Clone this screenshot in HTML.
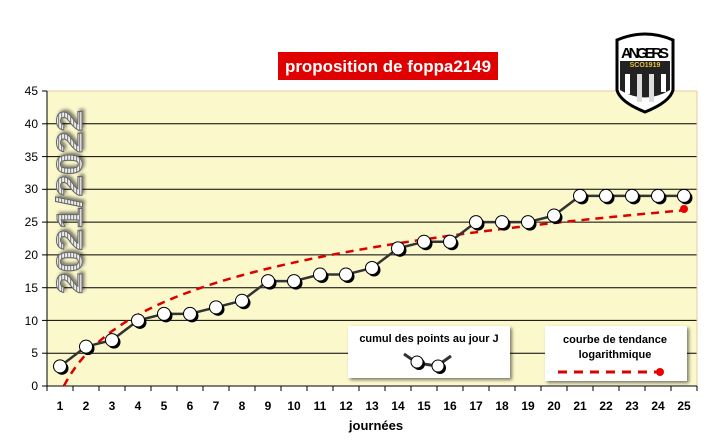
<!DOCTYPE html>
<html><head><meta charset="utf-8"><style>
body{margin:0;background:#fff}
svg{display:block;font-family:"Liberation Sans",sans-serif}
</style></head><body>
<svg width="708" height="448" viewBox="0 0 708 448" xmlns="http://www.w3.org/2000/svg">
<defs>
<pattern id="st" width="4" height="3" patternUnits="userSpaceOnUse"><rect width="4" height="3" fill="#eee"/><rect width="4" height="1.2" fill="#888"/></pattern>
<filter id="sh"><feDropShadow dx="2" dy="2" stdDeviation="1.5" flood-opacity="0.5"/></filter>
</defs>
<rect x="47" y="91" width="650" height="295" fill="#fbf8cc"/>
<g stroke="#000" stroke-width="1">
<line x1="47" y1="123.8" x2="697" y2="123.8"/><line x1="47" y1="156.6" x2="697" y2="156.6"/>
<line x1="47" y1="189.3" x2="697" y2="189.3"/><line x1="47" y1="222.1" x2="697" y2="222.1"/>
<line x1="47" y1="254.9" x2="697" y2="254.9"/><line x1="47" y1="287.7" x2="697" y2="287.7"/>
<line x1="47" y1="320.4" x2="697" y2="320.4"/><line x1="47" y1="353.2" x2="697" y2="353.2"/>
</g>
<line x1="47" y1="91" x2="697" y2="91" stroke="#e8c9a0"/>
<line x1="697" y1="91" x2="697" y2="386" stroke="#e8c9a0"/>
<line x1="47" y1="91" x2="47" y2="386" stroke="#000"/>
<line x1="47" y1="386" x2="697" y2="386" stroke="#000"/>
<g id="yl" font-size="12" text-anchor="end" fill="#000">
<text x="38" y="390">0</text><text x="38" y="357">5</text><text x="38" y="325">10</text><text x="38" y="292">15</text><text x="38" y="259">20</text><text x="38" y="226">25</text><text x="38" y="193">30</text><text x="38" y="161">35</text><text x="38" y="128">40</text><text x="38" y="95">45</text>
</g>
<g stroke="#000"><line x1="42" y1="386" x2="47" y2="386"/><line x1="42" y1="353.2" x2="47" y2="353.2"/><line x1="42" y1="320.4" x2="47" y2="320.4"/><line x1="42" y1="287.7" x2="47" y2="287.7"/><line x1="42" y1="254.9" x2="47" y2="254.9"/><line x1="42" y1="222.1" x2="47" y2="222.1"/><line x1="42" y1="189.3" x2="47" y2="189.3"/><line x1="42" y1="156.6" x2="47" y2="156.6"/><line x1="42" y1="123.8" x2="47" y2="123.8"/><line x1="42" y1="91" x2="47" y2="91"/></g>
<g id="xt"></g>
<text x="0" y="0" transform="translate(82,294) rotate(-90)" font-size="36" font-weight="bold" fill="url(#st)" stroke="#666" stroke-width="1" filter="url(#sh)" textLength="184" lengthAdjust="spacingAndGlyphs">2021/2022</text>
<g id="plot"></g>
<rect x="278" y="52" width="220" height="28" fill="#e00000"/>
<text x="388" y="72" font-size="17" font-weight="bold" fill="#fff" text-anchor="middle" textLength="206" lengthAdjust="spacingAndGlyphs">proposition de foppa2149</text>
<g transform="translate(615,30)">
<path d="M2 10 Q30 -2 58 10 L58 60 Q55 72 30 82 Q5 72 2 60 Z" fill="#fff" stroke="#000" stroke-width="3"/>
<path d="M5 38 L55 38 L55 60 Q30 75 5 60 Z" fill="#222"/>
<rect x="10" y="44" width="5" height="20" fill="#fff"/><rect x="22" y="44" width="5" height="28" fill="#ddd"/><rect x="34" y="44" width="5" height="28" fill="#ddd"/><rect x="46" y="44" width="5" height="18" fill="#fff"/>
<text x="30" y="28" font-size="15" font-weight="bold" text-anchor="middle" fill="#000" textLength="48">ANGERS</text>
<rect x="5" y="31" width="50" height="7" fill="#222"/>
<text x="30" y="37" font-size="7" font-weight="bold" text-anchor="middle" fill="#e8c040">SCO1919</text>
</g>
<g filter="url(#sh)">
<rect x="348" y="326" width="162" height="52" fill="#fff"/>
<rect x="545" y="326" width="142" height="55" fill="#fff"/>
</g>
<text x="429" y="342" font-size="11" font-weight="bold" text-anchor="middle">cumul des points au jour J</text>
<polyline points="404,354 417,363 437,366 451,356" fill="none" stroke="#333" stroke-width="3"/>
<circle cx="419" cy="364" r="6" fill="#000"/><circle cx="417" cy="362" r="6" fill="#fff" stroke="#000"/>
<circle cx="440" cy="368" r="6" fill="#000"/><circle cx="438" cy="366" r="6" fill="#fff" stroke="#000"/>
<text x="615" y="343" font-size="11" font-weight="bold" text-anchor="middle">courbe de tendance</text>
<text x="615" y="358" font-size="11" font-weight="bold" text-anchor="middle">logarithmique</text>
<line x1="558" y1="372" x2="658" y2="372" stroke="#d00" stroke-width="3" stroke-dasharray="9,7"/>
<circle cx="660" cy="372" r="4" fill="#e00"/>
<text x="376" y="430" font-size="13" font-weight="bold" text-anchor="middle">journées</text>
<script>
var ns="http://www.w3.org/2000/svg";
function el(p,t,a){var e=document.createElementNS(ns,t);for(var k in a)e.setAttribute(k,a[k]);p.appendChild(e);return e;}
var xt=document.getElementById("xt"),pl=document.getElementById("plot");
var X=function(i){return 47+13+(i-1)*26;},Y=function(v){return 386-v*6.556;};
for(var i=0;i<=25;i++)el(xt,"line",{x1:47+i*26,y1:386,x2:47+i*26,y2:391,stroke:"#000"});
for(var i=1;i<=25;i++){var t=el(xt,"text",{x:X(i),y:410,"font-size":12,"font-weight":"bold","text-anchor":"middle"});t.textContent=i;}
var d=[3,6,7,10,11,11,12,13,16,16,17,17,18,21,22,22,25,25,25,26,29,29,29,29,29];
var pts="";
for(var x=1.15;x<=25;x+=0.1){pts+=X(x)+","+Y(8.7*Math.log(x)-1.2)+" ";}
el(pl,"polyline",{points:pts,fill:"none",stroke:"#d00","stroke-width":2.5,"stroke-dasharray":"8,6"});
el(pl,"circle",{cx:X(25),cy:Y(27),r:4,fill:"#e00"});
el(pl,"polyline",{points:d.map(function(v,i){return X(i+1)+","+Y(v);}).join(" "),fill:"none",stroke:"#333","stroke-width":2.5});
d.forEach(function(v,i){el(pl,"circle",{cx:X(i+1)+2,cy:Y(v)+2,r:6.5,fill:"#000"});el(pl,"circle",{cx:X(i+1),cy:Y(v),r:6.5,fill:"#fff",stroke:"#000","stroke-width":1});});
</script>
</svg>
</body></html>
